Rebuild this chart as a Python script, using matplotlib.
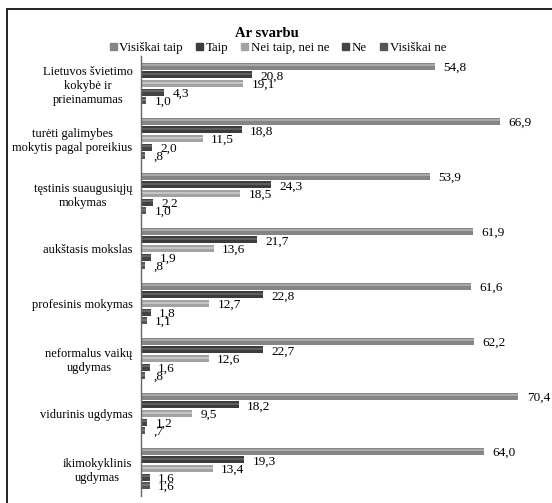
import matplotlib
matplotlib.use("Agg")
from matplotlib import pyplot as plt
from matplotlib.patches import Rectangle
import numpy as np

plt.rcParams["font.family"] = ["Liberation Serif", "DejaVu Serif"]

categories = [
    "Lietuvos švietimo\nkokybė ir\nprieinamumas",
    "turėti galimybes\nmokytis pagal poreikius",
    "tęstinis suaugusiųjų\nmokymas",
    "aukštasis mokslas",
    "profesinis mokymas",
    "neformalus vaikų\nugdymas",
    "vidurinis ugdymas",
    "ikimokyklinis\nugdymas",
]
series_names = ["Visiškai taip", "Taip", "Nei taip, nei ne", "Ne", "Visiškai ne"]
visiskai_taip = [54.8, 66.9, 53.9, 61.9, 61.6, 62.2, 70.4, 64.0]
taip = [20.8, 18.8, 24.3, 21.7, 22.8, 22.7, 18.2, 19.3]
nei_taip_nei_ne = [19.1, 11.5, 18.5, 13.6, 12.7, 12.6, 9.5, 13.4]
ne = [4.3, 2.0, 2.2, 1.9, 1.8, 1.6, 1.2, 1.6]
visiskai_ne = [1.0, 0.8, 1.0, 0.8, 1.1, 0.8, 0.7, 1.6]
series = [visiskai_taip, taip, nei_taip_nei_ne, ne, visiskai_ne]
colors = ["#858585", "#3c3c3c", "#a2a2a2", "#444444", "#555555"]
highlights = ["#a8a8a8", "#5e5e5e", "#c4c4c4", "#676767", "#777777"]


def fmt(v):
    s = f"{v:.1f}".replace(".", ",")
    if s.startswith("0,"):
        s = s[1:]
    return s


W, H = 552, 503
fig = plt.figure(figsize=(W / 100, H / 100), dpi=100)
ax = fig.add_axes([141 / W, 1 - 496 / H, 1 - 141 / W, (496 - 56) / H])

scale = 5.36
ax.set_xlim(0, (W - 141) / scale)
ax.set_ylim(len(categories) - 0.5, -0.5)

pitch = 0.157
bh = 0.128
y = np.arange(len(categories))
for i, (vals, c, hc) in enumerate(zip(series, colors, highlights)):
    yy = y + (i - 2) * pitch
    ax.barh(yy, vals, height=bh, color=c, label=series_names[i])
    # light band to mimic gradient shading
    ax.barh(yy - bh * 0.12, vals, height=bh * 0.3, color=hc, linewidth=0)
    for yv, v in zip(yy, vals):
        ax.annotate(fmt(v), (v, yv), xytext=(6, -1), textcoords="offset points",
                    ha="left", va="center", fontsize=9.5)

ax.set_yticks(y)
ax.set_yticklabels(categories, fontsize=9, multialignment="center")
ax.tick_params(axis="y", length=0, pad=6)
ax.set_xticks([])
for s in ["top", "right", "bottom"]:
    ax.spines[s].set_visible(False)
ax.spines["left"].set_color("#666666")
ax.spines["left"].set_linewidth(1.0)

fig.text(267 / W, 1 - 33 / H, "Ar svarbu", ha="center", va="center",
         fontsize=10.5, fontweight="bold")
handles = [Rectangle((0, 0), 1, 1, color=c) for c in colors]
fig.legend(handles, series_names, loc="center", bbox_to_anchor=(278 / W, 1 - 48 / H),
           ncol=5, frameon=False, fontsize=9.3, handlelength=0.55, handleheight=0.55,
           handletextpad=0.2, columnspacing=1.0)

fig.patches.append(Rectangle((7 / W, -0.1), 1.2, 1 - 9 / H + 0.1, transform=fig.transFigure,
                             fill=False, edgecolor="#111111", linewidth=1.3))

fig.savefig("out.png", dpi=100)
